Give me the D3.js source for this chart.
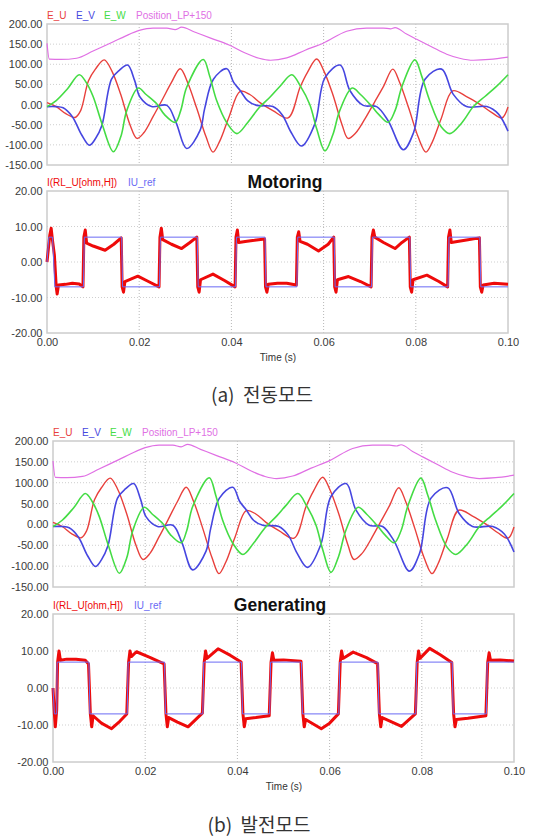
<!DOCTYPE html>
<html>
<head>
<meta charset="utf-8">
<script src="https://cdn.jsdelivr.net/npm/d3@7"></script>
<style>
body { margin: 0; background: #fff; }
</style>
</head>
<body>
<div id="canvas"></div>
<script>
// ---- data (time in ms, value) ----
const timeTicks = [0, 0.02, 0.04, 0.06, 0.08, 0.10];
const emfTicks = [-150, -100, -50, 0, 50, 100, 150, 200];
const currentTicks = [-20, -10, 0, 10, 20];

const emfLabels = ["E_U", "E_V", "E_W", "Position_LP+150"];
const currentLabels = ["I(RL_U[ohm,H])", "IU_ref"];

const eU = [[0,5],[2,-5],[4,-22],[6.1,-32],[7.3,-15],[9,59],[10.5,88],[12.4,111],[14,85],[16,25],
  [18,-50],[19.5,-84],[21,-70],[23,-30],[25,12],[27,55],[28.9,89],[30.5,55],[32.5,-10],[34.5,-80],
  [36,-118],[37.5,-90],[39.5,-30],[41.9,33],[44,25],[46.2,5],[49,-15],[52.3,-33],[54.9,43],[56.5,80],
  [58.5,113],[60,85],[62,25],[64,-50],[65.3,-84],[67,-70],[69,-35],[71,5],[73,45],[75,88],[76.5,55],
  [78.5,-10],[80.5,-80],[82.2,-118],[83.5,-95],[85.5,-35],[88,34],[91,20],[94,0],[96.5,-20],
  [98.7,-33],[100,-6]];

const eV = [[0,-5],[2,-5],[3.5,-8],[5.5,-30],[7.5,-75],[9.2,-101],[10.5,-85],[11.9,-52],[14,63],
  [15.7,85],[17.5,98],[19,60],[20.2,18],[22.7,-5],[26,-2],[28,-45],[30.3,-109],[33.2,-64],[34.2,-10],
  [36.1,63],[39,89],[40.5,55],[41.9,35],[43.5,10],[45.5,-2],[49,-5],[51,-25],[53,-70],[55.2,-103],
  [58.1,-48],[60.3,67],[63.6,98],[65.7,35],[68.6,-2],[71.5,-5],[74,-40],[77.3,-112],[79.5,-70],
  [82,63],[85.6,88],[88.1,26],[91,-5],[95.4,-5],[97.9,-23],[100,-66]];

const eW = [[0,-5],[2,10],[4.5,40],[7,74],[8.5,55],[10,20],[12,-50],[14.4,-117],[16,-80],[17.3,-15],
  [19.8,41],[21.5,25],[23.8,2],[25.5,-25],[27.8,-44],[29,-15],[30.3,43],[33.9,112],[35.3,70],
  [36.8,10],[39,-45],[41.2,-72],[43.5,-45],[46,-8],[48.5,20],[50.5,45],[53.1,74],[55,45],[57,0],
  [58.5,-60],[60.3,-115],[62,-75],[63.5,-15],[66.2,41],[68,25],[70.5,-5],[72,-25],[74,-44],
  [75.5,-15],[77,45],[79.8,111],[81.3,70],[83,10],[85.5,-55],[87.4,-72],[90,-45],[92.5,-5],
  [95,20],[97.5,45],[100,74]];

const positionLP = [[0,152],[0.5,113],[3,112],[6.4,115],[10,133],[14.4,156],[17,170],[20,184],
  [23,190],[26,190],[27.8,186],[29.2,192],[32,180],[35.5,165],[39.5,148],[43,128],[46,115],
  [48.5,110],[52,116],[56,135],[60,153],[65,182],[69.3,190],[73,190],[74.5,188],[75.5,191],
  [78,175],[80.2,162],[83.5,143],[86.7,125],[89.5,115],[92.5,110],[96,112],[100,118]];

const iuRefMotor = [[0,0],[0.4,7],[1.2,7],[1.7,-7],[7.9,-7],[8.1,7],[16.2,7],[16.4,-7],[24.4,-7],
  [24.6,7],[32.6,7],[32.8,-7],[40.9,-7],[41.1,7],[47.3,7],[47.5,-7],[54.2,-7],[54.4,7],[62.3,7],
  [62.5,-7],[70.4,-7],[70.6,7],[78.7,7],[78.9,-7],[87.0,-7],[87.2,7],[93.9,7],[94.1,-7],[100,-7]];

const iuMotor = [[0,0],[0.6,7.5],[0.9,9.5],[1.2,6],[1.6,2],[2.0,-7],[2.2,-9],[2.5,-6.5],[4,-6.3],
  [5.5,-6],[7,-6.2],[7.8,-7],[8.0,7],[8.3,9],[8.6,5.3],[10,4.5],[12.6,3.3],[14.5,5],[16.1,6.8],
  [16.3,-7],[16.6,-8.5],[16.9,-5.5],[19.7,-4.0],[22,-5.5],[24.3,-7],[24.5,7],[24.8,9.5],[25.1,6.3],
  [27,5],[29.2,3.8],[31,5.5],[32.5,7],[32.7,-7],[33,-8.5],[33.3,-5],[36,-3.4],[38.5,-5.2],[40.8,-7],
  [41,7],[41.3,9],[41.6,5.5],[43,5.8],[45,6.1],[47.2,6.5],[47.4,-7],[47.7,-8.5],[48,-6.3],[50,-6],
  [52,-6],[54.1,-6.5],[54.3,7],[54.6,8.5],[54.9,5.8],[56.5,5],[58.9,3.1],[61,5],[62.2,7],[62.4,-7],
  [62.7,-8.5],[63,-5],[65.4,-4.1],[68,-5.5],[70.3,-7],[70.5,7],[70.8,9],[71.1,7],[73,5.5],
  [75.5,3.8],[77,5.5],[78.6,7],[78.8,-7],[79.1,-8.5],[79.4,-5],[82.4,-3.7],[85,-5.5],[86.9,-7],
  [87.1,7],[87.4,9],[87.7,5.5],[89,5.8],[91,6.2],[93.8,6.8],[94,-7],[94.3,-8.5],[94.6,-6.5],
  [97,-6],[100,-6.3]];

const iuRefGen = [[0,0],[0.3,-7],[0.8,-7],[0.9,7],[7.8,7],[8.0,-7],[16.1,-7],[16.3,7],[24.2,7],
  [24.4,-7],[32.5,-7],[32.7,7],[40.9,7],[41.1,-7],[47,-7],[47.2,7],[53.9,7],[54.1,-7],[62,-7],
  [62.2,7],[70.5,7],[70.7,-7],[78.7,-7],[78.9,7],[86.6,7],[86.8,-7],[94,-7],[94.2,7],[100,7]];

const iuGen = [[0,0],[0.3,-7],[0.5,-10.5],[0.8,-6],[1.0,7],[1.3,10],[1.6,7.5],[3,7.8],[5,7.8],
  [7,7.5],[7.7,6.5],[8.1,-7],[8.4,-10.5],[8.7,-7.5],[10.5,-9.5],[12.7,-11],[14.5,-9],[16.0,-7],
  [16.4,7],[16.7,10],[17,8.5],[18.1,9.8],[21,8.3],[24.1,6.5],[24.5,-7],[24.8,-10.5],[25.1,-8],
  [27,-9.2],[29.3,-10.5],[32.4,-6.8],[32.8,7],[33.1,10],[33.4,8],[35.8,10.6],[38.5,8.8],[40.8,7],
  [41.2,-7],[41.5,-10.5],[41.8,-8.3],[44,-8],[46.9,-7.5],[47.3,7],[47.6,9.5],[47.9,7.5],[50,7.6],
  [53.8,7.2],[54.2,-7],[54.5,-10.5],[54.8,-8.5],[58.2,-11],[60,-9.5],[61.9,-7],[62.3,7],[62.6,10],
  [62.9,8],[65.1,9.7],[68,8.2],[70.4,6.6],[70.8,-7],[71.1,-10.5],[71.4,-8],[75.6,-10.4],[78.6,-7],
  [79,7],[79.3,10],[79.6,8],[81.7,10.7],[84,9],[86.5,6.9],[86.9,-7],[87.2,-10.5],[87.5,-8.5],
  [90,-8.2],[93.9,-7.5],[94.3,7],[94.6,9.5],[94.9,7.5],[97,7.6],[100,7.3]];

// ---- drawing ----
const svg = d3.select("#canvas").append("svg")
    .attr("width", 533)
    .attr("height", 839);

const font = "'Liberation Sans', Arial, sans-serif";
const fmt = d => d.toFixed(2);

function drawPanel(p) {
    const x = d3.scaleLinear().domain([0, 0.1]).range([p.left, p.right]);
    const y = d3.scaleLinear().domain(p.yDomain).range([p.bottom, p.top]);
    const g = svg.append("g");

    // grid
    g.append("g").selectAll("line")
        .data(p.yTicks.slice(1, -1))
        .enter().append("line")
        .attr("x1", p.left).attr("x2", p.right)
        .attr("y1", d => y(d)).attr("y2", d => y(d))
        .attr("stroke", "#cfcfcf")
        .attr("stroke-dasharray", "1,2");

    g.append("g").selectAll("line")
        .data(timeTicks.slice(1, -1))
        .enter().append("line")
        .attr("x1", d => x(d)).attr("x2", d => x(d))
        .attr("y1", p.top).attr("y2", p.bottom)
        .attr("stroke", "#b8b8b8")
        .attr("stroke-dasharray", "1,2");

    g.append("rect")
        .attr("x", p.left).attr("y", p.top)
        .attr("width", p.right - p.left).attr("height", p.bottom - p.top)
        .attr("fill", "none")
        .attr("stroke", "#cccccc")
        .attr("stroke-width", 1.5);

    // y axis labels
    const yAxis = g.append("g")
        .attr("transform", "translate(" + (p.left - 0.5) + ",0)")
        .call(d3.axisLeft(y).tickValues(p.yTicks).tickFormat(fmt).tickSize(0).tickPadding(4));
    yAxis.select(".domain").remove();
    yAxis.attr("font-family", font).attr("font-size", 11).attr("color", "#3a3a3a");

    if (p.xAxis) {
        const xAxis = g.append("g")
            .attr("transform", "translate(0," + p.bottom + ")")
            .call(d3.axisBottom(x).tickValues(timeTicks).tickFormat(fmt).tickSize(0).tickPadding(5));
        xAxis.select(".domain").remove();
        xAxis.attr("font-family", font).attr("font-size", 11).attr("color", "#3a3a3a");

        g.append("text")
            .attr("x", p.left + 231)
            .attr("y", p.bottom + 25)
            .attr("dy", "0.32em")
            .attr("text-anchor", "middle")
            .attr("font-family", font)
            .attr("font-size", 10)
            .attr("fill", "#333")
            .text("Time (s)");
    }

    // series
    p.series.forEach(function (s) {
        const line = d3.line()
            .x(d => x(d[0] / 1000))
            .y(d => y(d[1]))
            .curve(s.curve || d3.curveLinear);
        g.append("path")
            .datum(s.data)
            .attr("d", line)
            .attr("fill", "none")
            .attr("stroke", s.color)
            .attr("stroke-width", s.width)
            .attr("stroke-linejoin", "round");
    });

    // legend
    g.append("g").selectAll("text")
        .data(p.legend)
        .enter().append("text")
        .attr("x", (d, i) => p.left + p.legendOffsets[i])
        .attr("y", p.top - 8)
        .attr("dy", "0.32em")
        .attr("font-family", font)
        .attr("font-size", 10)
        .attr("fill", d => d.color)
        .text(d => d.label);

    if (p.title) {
        g.append("text")
            .attr("x", p.titleX)
            .attr("y", p.top - 3)
            .attr("text-anchor", "middle")
            .attr("font-family", font)
            .attr("font-size", 17.5)
            .attr("font-weight", "bold")
            .attr("fill", "#111")
            .text(p.title);
    }
}

const emfColors = ["#e8403c", "#4646e0", "#44dc44", "#e070e4"];
const curColors = ["#ee0a0a", "#6a6af4"];

function emfPanel(left, top, bottom) {
    drawPanel({
        left: left, right: left + 461, top: top, bottom: bottom,
        yDomain: [-150, 200], yTicks: emfTicks,
        series: [
            {data: positionLP, color: emfColors[3], width: 1.2, curve: d3.curveMonotoneX},
            {data: eU, color: emfColors[0], width: 1.4, curve: d3.curveCatmullRom},
            {data: eV, color: emfColors[1], width: 1.6, curve: d3.curveCatmullRom},
            {data: eW, color: emfColors[2], width: 1.6, curve: d3.curveCatmullRom}
        ],
        legend: emfLabels.map((l, i) => ({label: l, color: emfColors[i]})),
        legendOffsets: [0, 29, 57, 89]
    });
}

function currentPanel(left, top, bottom, iu, iuRef, title, titleX) {
    drawPanel({
        left: left, right: left + 461, top: top, bottom: bottom,
        yDomain: [-20, 20], yTicks: currentTicks,
        series: [
            {data: iu, color: curColors[0], width: 3},
            {data: iuRef, color: curColors[1], width: 1}
        ],
        legend: currentLabels.map((l, i) => ({label: l, color: curColors[i]})),
        legendOffsets: [0, 81],
        xAxis: true,
        title: title, titleX: titleX
    });
}

emfPanel(47, 24, 165);
currentPanel(47, 191, 333, iuMotor, iuRefMotor, "Motoring", 285);
emfPanel(53, 441, 587);
currentPanel(53, 614, 762, iuGen, iuRefGen, "Generating", 280);

// captions
const captions = [{text: "(a)  전동모드", x: 262, y: 395}, {text: "(b)  발전모드", x: 259, y: 825}];
svg.selectAll(".caption")
    .data(captions)
    .enter().append("text")
    .attr("class", "caption")
    .attr("x", d => d.x)
    .attr("y", d => d.y)
    .attr("dy", "0.35em")
    .attr("text-anchor", "middle")
    .attr("font-family", "'Noto Sans CJK KR', 'Noto Sans', sans-serif")
    .attr("font-size", 19)
    .attr("fill", "#333")
    .attr("xml:space", "preserve")
    .style("white-space", "pre")
    .text(d => d.text);
</script>
</body>
</html>
